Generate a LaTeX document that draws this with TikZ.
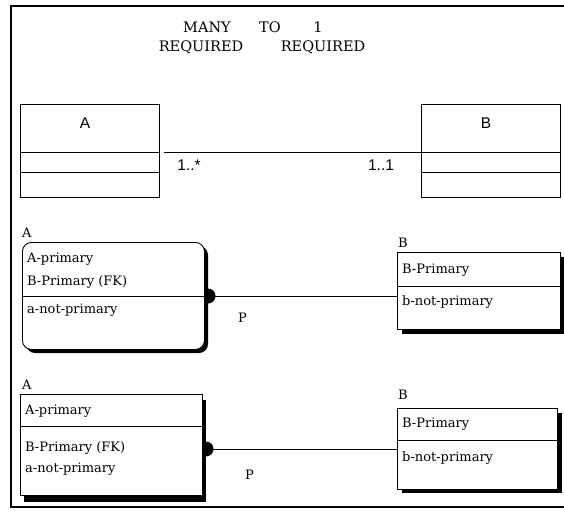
\documentclass[tikz,border=0pt]{standalone}
\usepackage{fontspec}
\newfontfamily\serfont{DejaVu Serif}
\newfontfamily\sanfont{Liberation Sans}
\begin{document}
\begin{tikzpicture}[x=1pt,y=-1pt,
  frame/.style={line width=1.6pt},
  umlbox/.style={draw, line width=0.9pt, fill=white, inner sep=0pt, anchor=north west},
  erbox/.style={draw, line width=0.9pt, fill=white, inner sep=0pt, anchor=north west},
  lbl/.style={font=\serfont\fontsize{13}{15}\selectfont, inner sep=0pt, anchor=west},
  ttl/.style={font=\serfont\fontsize{14.5}{17}\selectfont, inner sep=0pt},
  sans/.style={font=\sanfont\fontsize{15.5}{17}\selectfont, inner sep=0pt},
  conn/.style={line width=1pt},
  dotc/.style={circle, fill=black, minimum size=15pt, inner sep=0pt}
]
\useasboundingbox (0,0) rectangle (564,511);
\draw[frame] (564,6) -- (11,6) -- (11,507) -- (564,507);

% title
\node[ttl] (tMany) at (207,27) {MANY};
\node[ttl] (tTo) at (270,27) {TO};
\node[ttl] (tOne) at (318,27) {1};
\node[ttl] (tReqA) at (201,47) {REQUIRED};
\node[ttl] (tReqB) at (323,47) {REQUIRED};

% top UML-like boxes
\node[umlbox, minimum width=139pt, minimum height=93pt] (A1) at (20,104) {};
\draw[line width=0.9pt] ([yshift=-48pt]A1.north west) -- ([yshift=-48pt]A1.north east);
\draw[line width=0.9pt] ([yshift=-68pt]A1.north west) -- ([yshift=-68pt]A1.north east);
\node[sans] (A1t) at (85,123) {A};

\node[umlbox, minimum width=139pt, minimum height=93pt] (B1) at (421,104) {};
\draw[line width=0.9pt] ([yshift=-48pt]B1.north west) -- ([yshift=-48pt]B1.north east);
\draw[line width=0.9pt] ([yshift=-68pt]B1.north west) -- ([yshift=-68pt]B1.north east);
\node[sans] (B1t) at (486,123) {B};

\coordinate (A1d) at ([yshift=-48pt]A1.north east);
\coordinate (B1d) at ([yshift=-48pt]B1.north west);
\draw[conn] ([xshift=4pt]A1d) -- (B1d);
\node[sans] (m1) at (189,165) {1..*};
\node[sans] (m2) at (381,165) {1..1};

% middle ER
\node[lbl] (A2l) at (22,233) {A};
\node[dotc] (D2) at (208,296) {};
\fill[rounded corners=9pt] (26,246) rectangle (208,353);
\node[erbox, rounded corners=9pt, minimum width=182pt, minimum height=107pt] (A2) at (22,242) {};
\draw[line width=0.9pt] ([yshift=-54pt]A2.north west) -- ([yshift=-54pt]A2.north east);
\node[lbl] (A2a) at (27,259) {A-primary};
\node[lbl] (A2b) at (27,282) {B-Primary (FK)};
\node[lbl] (A2c) at (27,310) {a-not-primary};

\node[lbl] (B2l) at (398,243) {B};
\fill (402,257) rectangle (565,334);
\node[erbox, minimum width=163pt, minimum height=77pt] (B2) at (397,252) {};
\draw[line width=0.9pt] ([yshift=-34pt]B2.north west) -- ([yshift=-34pt]B2.north east);
\node[lbl] (B2a) at (402,270) {B-Primary};
\node[lbl] (B2b) at (402,302) {b-not-primary};

\draw[conn] (D2.center) -- (D2.center -| B2.west);
\node[lbl] (P2) at (238,318) {P};

% bottom ER
\node[lbl] (A3l) at (22,385) {A};
\node[dotc] (D3) at (206,449) {};
\fill (24,400) rectangle (206,502);
\node[erbox, minimum width=182pt, minimum height=101pt] (A3) at (20,394) {};
\draw[line width=0.9pt] ([yshift=-32pt]A3.north west) -- ([yshift=-32pt]A3.north east);
\node[lbl] (A3a) at (25,411) {A-primary};
\node[lbl] (A3b) at (25,448) {B-Primary (FK)};
\node[lbl] (A3c) at (25,469) {a-not-primary};

\node[lbl] (B3l) at (398,395) {B};
\fill (402,413) rectangle (562,493);
\node[erbox, minimum width=160pt, minimum height=81pt] (B3) at (397,408) {};
\draw[line width=0.9pt] ([yshift=-32pt]B3.north west) -- ([yshift=-32pt]B3.north east);
\node[lbl] (B3a) at (402,424) {B-Primary};
\node[lbl] (B3b) at (402,458) {b-not-primary};

\draw[conn] (D3.center) -- (D3.center -| B3.west);
\node[lbl] (P3) at (245,475) {P};
\end{tikzpicture}
\end{document}
